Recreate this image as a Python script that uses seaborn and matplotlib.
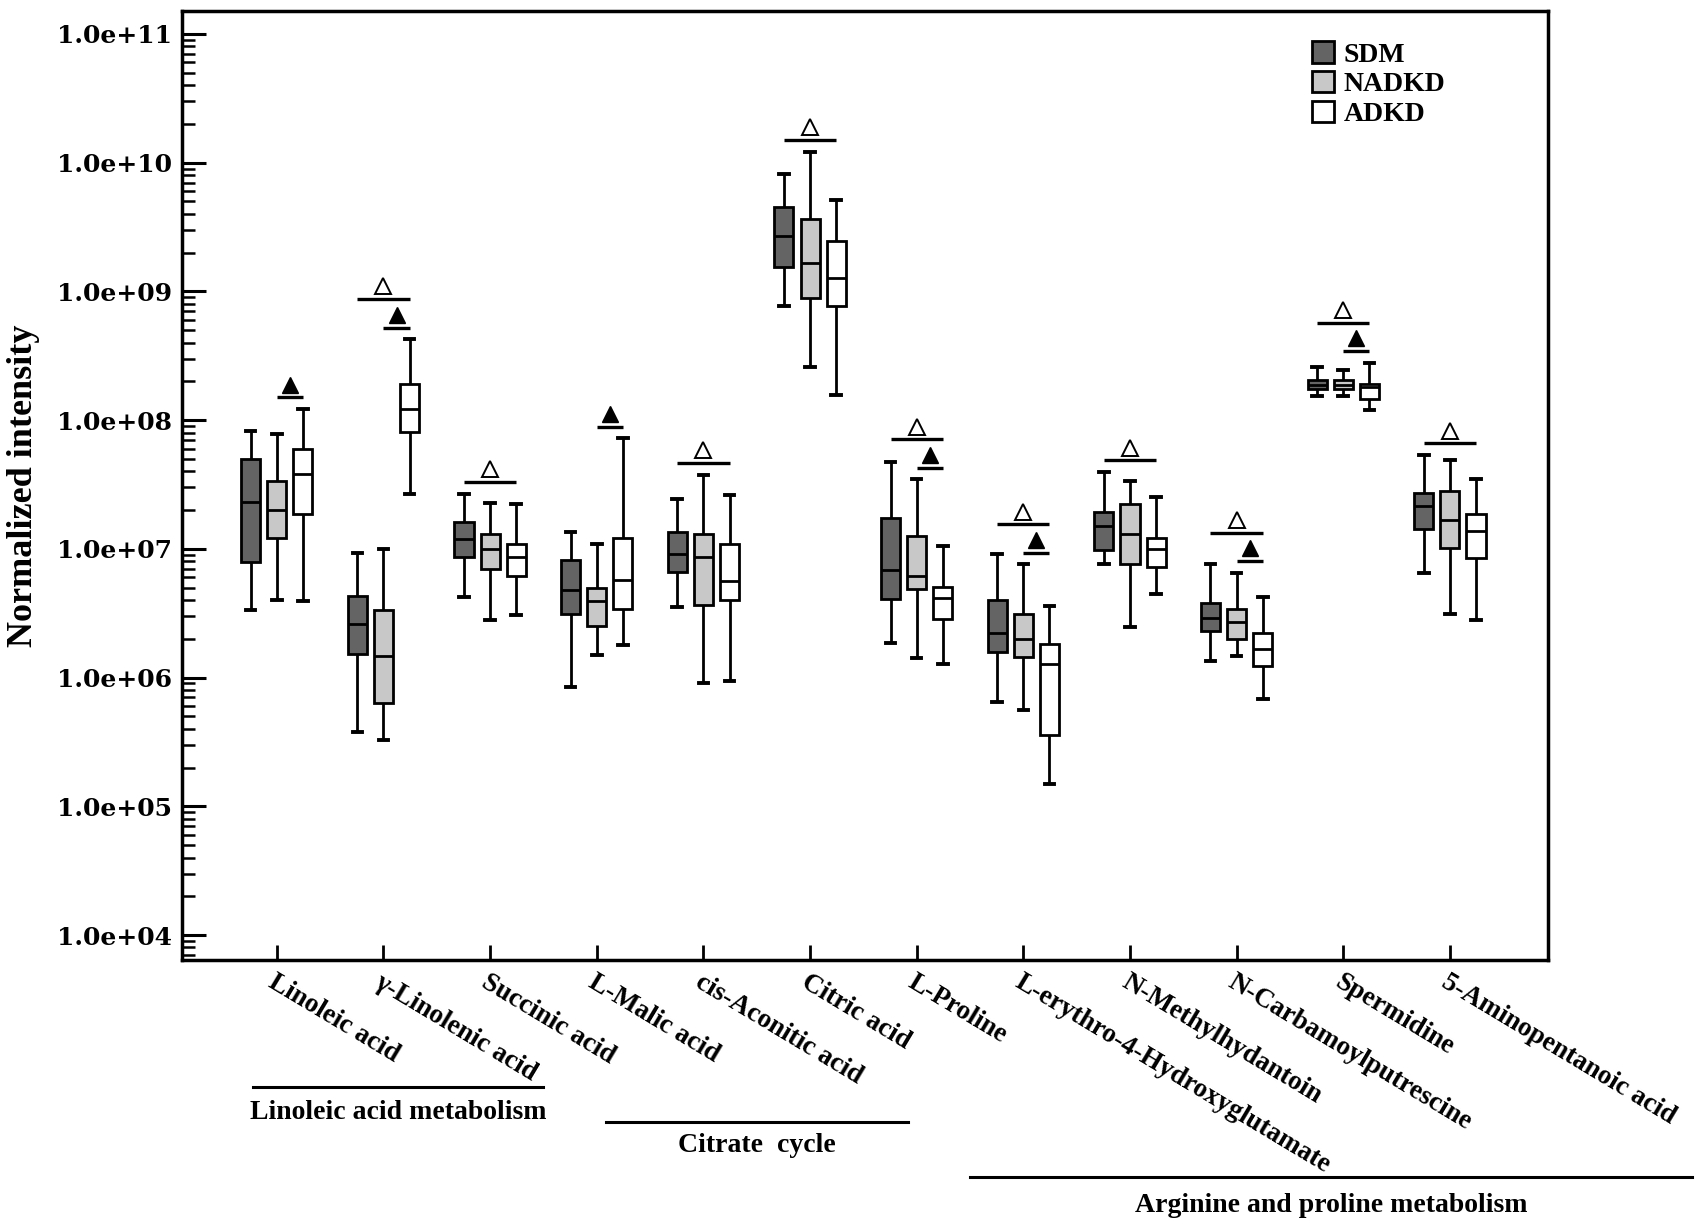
import numpy as np
import pandas as pd
import matplotlib.pyplot as plt
import matplotlib.ticker as mticker
import matplotlib.transforms as mtrans
from matplotlib.patches import Patch
import seaborn as sns

# Categories and groups
metabolites = ["Linoleic acid", "γ-Linolenic acid", "Succinic acid", "L-Malic acid",
               "cis-Aconitic acid", "Citric acid", "L-Proline",
               "L-erythro-4-Hydroxyglutamate", "N-Methylhydantoin",
               "N-Carbamoylputrescine", "Spermidine", "5-Aminopentanoic acid"]
groups = ["SDM", "NADKD", "ADKD"]

# five-number summaries: [whisker low, Q1, median, Q3, whisker high]
sdm_stats = [
    [3.36e6, 7.9e6, 2.3e7, 5.0e7, 8.2e7],
    [3.8e5, 1.52e6, 2.6e6, 4.3e6, 9.25e6],
    [4.2e6, 8.7e6, 1.19e7, 1.63e7, 2.67e7],
    [8.4e5, 3.1e6, 4.75e6, 8.2e6, 1.36e7],
    [3.56e6, 6.55e6, 9.1e6, 1.36e7, 2.45e7],
    [7.7e8, 1.56e9, 2.69e9, 4.55e9, 8.1e9],
    [1.86e6, 4.05e6, 6.8e6, 1.73e7, 4.7e7],
    [6.5e5, 1.58e6, 2.2e6, 3.98e6, 9.06e6],
    [7.57e6, 9.8e6, 1.5e7, 1.93e7, 3.95e7],
    [1.34e6, 2.3e6, 2.88e6, 3.81e6, 7.57e6],
    [1.54e8, 1.73e8, 1.87e8, 2.04e8, 2.6e8],
    [6.45e6, 1.42e7, 2.15e7, 2.73e7, 5.36e7],
]
nadkd_stats = [
    [4.0e6, 1.22e7, 1.99e7, 3.37e7, 7.8e7],
    [3.3e5, 6.4e5, 1.46e6, 3.36e6, 9.9e6],
    [2.8e6, 6.95e6, 9.9e6, 1.31e7, 2.29e7],
    [1.5e6, 2.5e6, 3.9e6, 5.0e6, 1.09e7],
    [9.0e5, 3.67e6, 8.7e6, 1.31e7, 3.76e7],
    [2.6e8, 8.9e8, 1.67e9, 3.63e9, 1.22e10],
    [1.43e6, 4.9e6, 6.15e6, 1.25e7, 3.47e7],
    [5.6e5, 1.45e6, 1.98e6, 3.1e6, 7.57e6],
    [2.47e6, 7.57e6, 1.3e7, 2.24e7, 3.37e7],
    [1.47e6, 1.98e6, 2.7e6, 3.39e6, 6.5e6],
    [1.54e8, 1.75e8, 1.87e8, 2.04e8, 2.44e8],
    [3.1e6, 1.01e7, 1.66e7, 2.81e7, 4.87e7],
]
adkd_stats = [
    [3.9e6, 1.87e7, 3.83e7, 6.0e7, 1.22e8],
    [2.67e7, 8.1e7, 1.22e8, 1.9e8, 4.26e8],
    [3.07e6, 6.2e6, 8.7e6, 1.09e7, 2.22e7],
    [1.8e6, 3.4e6, 5.7e6, 1.21e7, 7.2e7],
    [9.4e5, 4.0e6, 5.6e6, 1.09e7, 2.6e7],
    [1.58e8, 7.7e8, 1.28e9, 2.46e9, 5.1e9],
    [1.28e6, 2.86e6, 4.12e6, 5.08e6, 1.06e7],
    [1.5e5, 3.6e5, 1.28e6, 1.81e6, 3.59e6],
    [4.48e6, 7.26e6, 9.9e6, 1.22e7, 2.53e7],
    [6.8e5, 1.24e6, 1.67e6, 2.2e6, 4.2e6],
    [1.2e8, 1.45e8, 1.81e8, 1.92e8, 2.79e8],
    [2.8e6, 8.5e6, 1.37e7, 1.88e7, 3.47e7],
]

# significance marks: open triangle = across the three groups, filled = NADKD vs ADKD
open_mark = [0, 1, 1, 0, 1, 1, 1, 1, 1, 1, 1, 1]
filled_mark = [1, 1, 0, 1, 0, 0, 1, 1, 0, 1, 1, 0]

pathways = ["Linoleic acid metabolism", "Citrate  cycle", "Arginine and proline metabolism"]

colors = {"SDM": "#646464", "NADKD": "#c8c8c8", "ADKD": "#ffffff"}

# long-form table: each box is drawn from its five numbers
rows = []
for g, stats in zip(groups, [sdm_stats, nadkd_stats, adkd_stats]):
    for m, vals in zip(metabolites, stats):
        for v in vals:
            rows.append({"metabolite": m, "group": g, "value": v})
df = pd.DataFrame(rows)

plt.rcParams['font.family'] = ['Liberation Serif', 'DejaVu Serif']
plt.rcParams['font.weight'] = 'bold'

fig = plt.figure(figsize=(17, 12.24), dpi=100)
ax = fig.add_axes([0.107, 0.2157, 0.8036, 0.7753])
ax.set_yscale('log')

box_width = 0.735
sns.boxplot(data=df, x="metabolite", y="value", hue="group",
            order=metabolites, hue_order=groups, palette=colors,
            saturation=1, width=box_width, gap=0.27, whis=(0, 100),
            linecolor="black", linewidth=2, showfliers=False,
            capprops={"linewidth": 2.8}, legend=False, ax=ax)

ax.set_xlim(-0.89, 11.92)
ax.set_ylim(10 ** 3.806, 10 ** 11.178)

# significance bars and triangles
step = box_width / 3
for i in range(len(metabolites)):
    filled_y = None
    if filled_mark[i]:
        top = max(nadkd_stats[i][4], adkd_stats[i][4])
        filled_y = top * 10 ** 0.09
        ax.plot([i, i + step], [filled_y, filled_y], color="black", lw=2.4,
                solid_capstyle="butt")
        ax.plot(i + step / 2, filled_y * 10 ** 0.1, marker="^", ms=12,
                mfc="black", mec="black", mew=1)
    if open_mark[i]:
        if filled_y is not None:
            open_y = filled_y * 10 ** 0.22
        else:
            top = max(sdm_stats[i][4], nadkd_stats[i][4], adkd_stats[i][4])
            open_y = top * 10 ** 0.09
        ax.plot([i - step, i + step], [open_y, open_y], color="black", lw=2.4,
                solid_capstyle="butt")
        ax.plot(i, open_y * 10 ** 0.1, marker="^", ms=12,
                mfc="white", mec="black", mew=1.4)

# axes styling
for sp in ax.spines.values():
    sp.set_linewidth(2.5)
    sp.set_color("black")

ax.yaxis.set_major_locator(mticker.FixedLocator(10.0 ** np.arange(4, 12)))
ax.yaxis.set_major_formatter(mticker.FuncFormatter(lambda v, p: f"{v:.1e}"))
ax.yaxis.set_minor_locator(mticker.LogLocator(base=10, subs=np.arange(2, 10), numticks=20))
ax.yaxis.set_minor_formatter(mticker.NullFormatter())
ax.tick_params(axis="y", which="major", direction="in", length=17, width=2.2, pad=7)
ax.tick_params(axis="y", which="minor", direction="in", length=9, width=1.8)
ax.tick_params(axis="x", which="major", direction="in", length=11, width=2, pad=7)
for lab in ax.get_yticklabels():
    lab.set_fontfamily("DejaVu Serif")
    lab.set_fontweight("bold")
    lab.set_fontsize(18)

ax.set_xticks(range(len(metabolites)))
ax.set_xticklabels(metabolites, rotation=-31, ha="left", va="top",
                   rotation_mode="anchor", fontsize=19.5, fontweight="bold")
ax.set_xlabel("")
ax.set_ylabel("Normalized intensity", fontsize=26, fontweight="bold")
ax.yaxis.set_label_coords(-0.104, 0.5)

# legend
handles = [Patch(facecolor=colors[g], edgecolor="black", linewidth=2) for g in groups]
ax.legend(handles, groups, loc="upper left", bbox_to_anchor=(0.827, 0.968),
          frameon=False, borderpad=0, borderaxespad=0, handlelength=0.8,
          handleheight=0.8, handletextpad=0.35, labelspacing=0.12,
          prop={"weight": "bold", "size": 20, "family": "Liberation Serif"})

# pathway brackets under the labels
trans = mtrans.blended_transform_factory(ax.transData, fig.transFigure)
spans = [(-0.22, 2.5), (3.09, 5.92), (6.50, 13.27)]
line_y = [0.112, 0.0833, 0.0384]
text_y = [0.0915, 0.0645, 0.0155]
for name, (x0, x1), ly, ty in zip(pathways, spans, line_y, text_y):
    ax.plot([x0, x1], [ly, ly], color="black", lw=2.2, transform=trans, clip_on=False)
    ax.text((x0 + x1) / 2, ty, name, transform=trans, ha="center", va="center",
            fontsize=20, fontweight="bold")

fig.savefig("out.png", dpi=100)
